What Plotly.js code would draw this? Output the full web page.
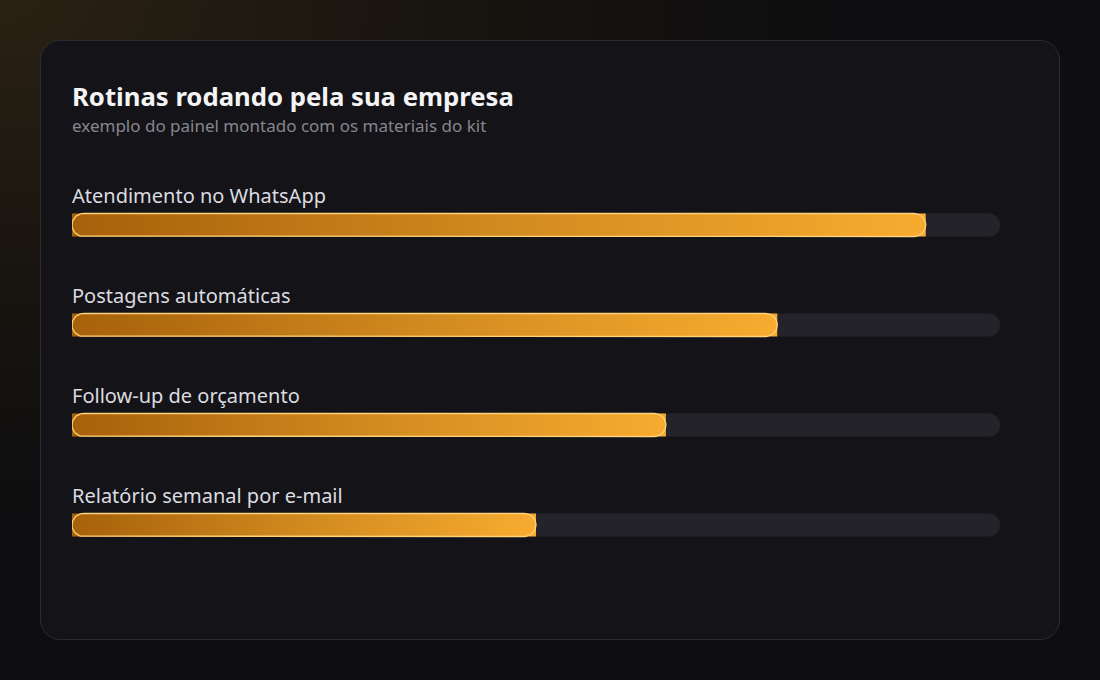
<!DOCTYPE html>
<html>
<head>
<meta charset="utf-8">
<script src="https://cdn.plot.ly/plotly-3.0.1.min.js"></script>
<style>
  html, body { margin:0; padding:0; width:1100px; height:680px; overflow:hidden; }
  body { background: radial-gradient(ellipse 90% 90% at 0% 0%, #2a2113 0%, #18140f 45%, #0e0e10 85%); position:relative; font-family:"Noto Sans", sans-serif; }
  #card { position:absolute; left:40px; top:40px; width:1018px; height:598px; border:1px solid #2c2c32; border-radius:20px; background:#141418; }
  #chart { position:absolute; left:0; top:0; width:1100px; height:680px; }
</style>
</head>
<body>
<div id="card"></div>
<div id="chart"></div>
<script>
const chartTitle = "Rotinas rodando pela sua empresa";
const chartSubtitle = "exemplo do painel montado com os materiais do kit";
const categories = ["Atendimento no WhatsApp", "Postagens automáticas", "Follow-up de orçamento", "Relatório semanal por e-mail"];
const values = [92, 76, 64, 50];
const maxValue = 100;

const barThickness = 0.23;
const positions = categories.map((c, i) => i);
const fontFam = '"Noto Sans", "Open Sans", sans-serif';

// plot geometry (used to keep the outline ends round)
const plotW = 1100 - 72 - 100, plotH = 680 - 175 - 105, yRangeSpan = 4;
const rY = barThickness / 2;
const rX = rY * (plotH / yRangeSpan) / (plotW / maxValue);

const traces = [];
// track
traces.push({
  type: 'bar', orientation: 'h', x: categories.map(() => maxValue), y: positions,
  width: barThickness, marker: { color: '#232329', cornerradius: '50%', line: { width: 0 } },
  hoverinfo: 'skip', showlegend: false
});
// gradient fills
values.forEach((v, i) => {
  const y0 = positions[i] - rY, y1 = positions[i] + rY;
  traces.push({
    type: 'scatter', mode: 'lines', x: [0, v, v, 0, 0], y: [y0, y0, y1, y1, y0],
    fill: 'toself', line: { width: 0, color: 'rgba(0,0,0,0)' },
    fillgradient: { type: 'horizontal', colorscale: [[0, '#a6610b'], [0.5, '#d18a1f'], [1, '#f7ab2f']] },
    hoverinfo: 'skip', showlegend: false
  });
});
// rounded outlines
values.forEach((v, i) => {
  const yc = positions[i];
  const xs = [], ys = [];
  const n = 24;
  for (let k = 0; k <= n; k++) {
    const a = -Math.PI / 2 + Math.PI * k / n;
    xs.push(v - rX + rX * Math.cos(a)); ys.push(yc + rY * Math.sin(a));
  }
  for (let k = 0; k <= n; k++) {
    const a = Math.PI / 2 + Math.PI * k / n;
    xs.push(rX + rX * Math.cos(a)); ys.push(yc + rY * Math.sin(a));
  }
  xs.push(xs[0]); ys.push(ys[0]);
  traces.push({
    type: 'scatter', mode: 'lines', x: xs, y: ys,
    line: { width: 1.3, color: '#ffd27c' }, hoverinfo: 'skip', showlegend: false
  });
});

const annotations = categories.map((c, i) => ({
  text: c, x: 0, y: positions[i], xref: 'x', yref: 'y', xanchor: 'left', yanchor: 'middle',
  yshift: 30, xshift: -2, showarrow: false, font: { family: fontFam, size: 20, color: '#dcdce0' }
}));
annotations.push({
  text: chartSubtitle, x: 0, y: (575 - 125) / 400, xref: 'paper', yref: 'paper',
  xanchor: 'left', yanchor: 'middle', xshift: -2, showarrow: false,
  font: { family: fontFam, size: 17, color: '#86868e' }
});

const layout = {
  width: 1100, height: 680,
  paper_bgcolor: 'rgba(0,0,0,0)', plot_bgcolor: 'rgba(0,0,0,0)',
  margin: { l: 72, r: 100, t: 175, b: 105 },
  title: {
    text: '<b>' + chartTitle + '</b>', xref: 'container', yref: 'container',
    x: 72 / 1100, xanchor: 'left', y: 1 - 97 / 680, yanchor: 'middle',
    font: { family: fontFam, size: 25.7, color: '#f4f4f6' }
  },
  xaxis: { range: [0, maxValue], visible: false, fixedrange: true },
  yaxis: { range: [3.5, -0.5], visible: false, fixedrange: true },
  annotations: annotations,
  showlegend: false
};

Plotly.newPlot('chart', traces, layout, { displayModeBar: false, staticPlot: true });
</script>
</body>
</html>
